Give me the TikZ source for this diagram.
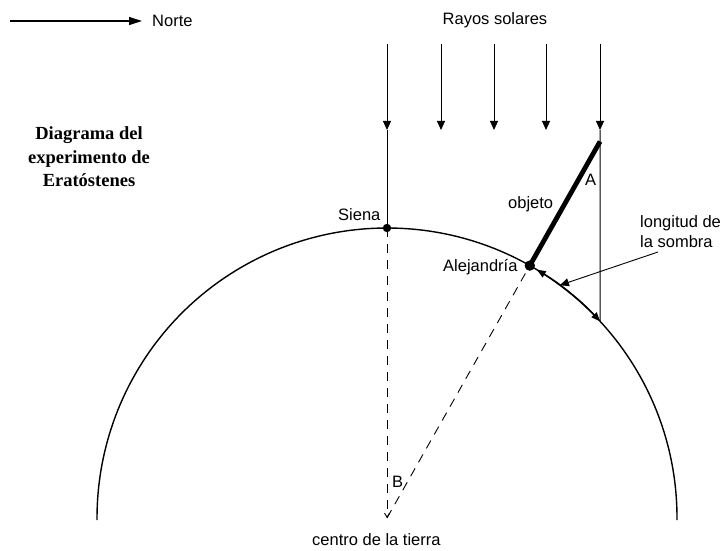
\documentclass[tikz,border=0pt]{standalone}
\usepackage{fontspec}
\setmainfont{Liberation Sans}
\newfontfamily\titlefont{Liberation Serif}
\usetikzlibrary{arrows.meta,calc}
\begin{document}
\begin{tikzpicture}[x=1pt,y=1pt,
  lbl/.style={font=\fontsize{16.5}{19}\selectfont, inner sep=0pt, anchor=base west},
  ttl/.style={font=\titlefont\bfseries\fontsize{18.5}{23}\selectfont, inner sep=0pt, anchor=base},
  ray/.style={line width=1pt},
  tip/.style={-{Triangle[length=9pt,width=8pt]}},
]
\useasboundingbox (0,0) rectangle (727,550);
% geometry
\coordinate (C) at (387,32);
\coordinate (S) at ($(C)+(90:290)$);
\coordinate (Al) at ($(C)+(60.5:290)$);
\coordinate (T) at ($(C)+(60.5:432.6)$);
\coordinate (R) at ($(C)+(42.7:290)$);
\coordinate (L) at ($(C)+(53.4:290)$);
\coordinate (Sh1) at ($(C)+(58.9:290)$);
\coordinate (lsA) at (658,298);

% earth
\draw[line width=1.4pt] ($(C)+(-0.4:290)$) arc[start angle=-0.4,end angle=180.4,radius=290];

% rays
\foreach \x/\n in {387/1,441/2,494/3,546/4,600/5} {
  \coordinate (rt\n) at (\x,506);
  \coordinate (ra\n) at (\x,420);
  \draw[ray,tip] (rt\n) -- (ra\n);
}
\draw[ray] (ra1) -- (S);
\draw[ray] (ra5) -- (R);

% dashed radii
\draw[line width=0.9pt, dash pattern=on 9pt off 7pt, -{Straight Barb[length=4pt,width=5pt]}] (S) -- (C);
\draw[line width=0.9pt, dash pattern=on 9pt off 7pt] (C) -- (Al);

% object
\draw[line width=4.8pt] (Al) -- (T);
\fill (S) circle (4.2);
\fill (Al) circle (5.2);

% shadow length along arc
\draw[line width=1.4pt, {Triangle[length=9pt,width=7pt]}-{Triangle[length=9pt,width=7pt]}]
  (Sh1) arc[start angle=58.9, end angle=42.7, radius=290];
\draw[line width=0.9pt, tip] (lsA) -- (L);

% Norte
\node[lbl] (norte) at (152,523) {Norte};
\coordinate (n0) at (10,529);
\coordinate (n1) at (142,529);
\draw[line width=1.1pt, -{Triangle[length=13pt,width=8pt]}] (n0) -- (n1);

% labels
\node[lbl, anchor=base] (rayos) at (495,525) {Rayos solares};
\node[ttl] (t1) at (89,411) {Diagrama del};
\node[ttl] (t2) at (89,387) {experimento de};
\node[ttl] (t3) at (89,364) {Eratóstenes};
\node[lbl] (siena) at (338,330) {Siena};
\node[lbl] (obj) at (508,342) {objeto};
\node[lbl] (A) at (585,365) {A};
\node[lbl] (lon1) at (640,323) {longitud de};
\node[lbl] (lon2) at (640,303) {la sombra};
\node[lbl] (alej) at (443,279) {Alejandría};
\node[lbl] (B) at (392,63) {B};
\node[lbl] (centro) at (312,5) {centro de la tierra};
\end{tikzpicture}
\end{document}
